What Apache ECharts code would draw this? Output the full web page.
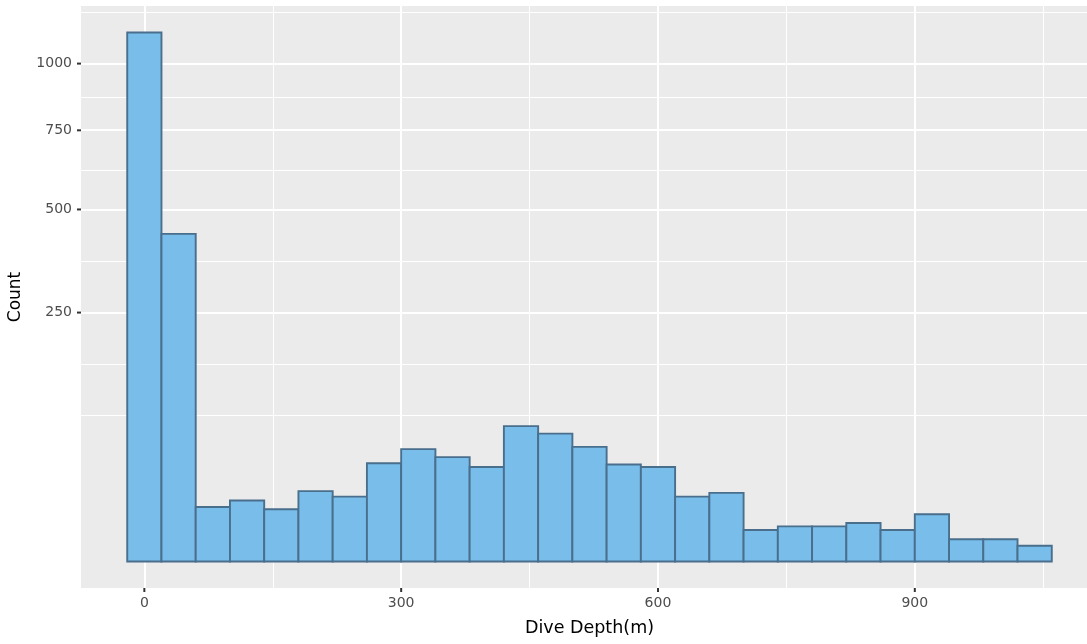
<!DOCTYPE html>
<html><head><meta charset="utf-8">
<script src="https://cdn.jsdelivr.net/npm/echarts@6/dist/echarts.min.js"></script>
<style>html,body{margin:0;padding:0;background:#fff}#c{width:1087px;height:644px}</style>
</head><body><div id="c"></div>
<script>
// Histogram bins (left edges, metres) and counts
const binStart = [-20, 20, 60, 100, 140, 180, 220, 260, 300, 340, 380, 420, 460, 500, 540, 580, 620, 660, 700, 740, 780, 820, 860, 900, 940, 980, 1020];
const binWidth = 40;
const counts = [1129, 433, 12, 15, 11, 20, 17, 39, 51, 44, 36, 74, 66, 53, 38, 36, 17, 19, 4, 5, 5, 6, 4, 9, 2, 2, 1];
const xTicks = [0, 300, 600, 900];
const xMinor = [150, 450, 750, 1050];
const yTicks = [250, 500, 750, 1000];

const sq = v => Math.sqrt(v);
const ySq = yTicks.map(sq);
const bd = ySq[1] - ySq[0];
const ext = [ySq[0] - bd].concat(ySq, [ySq[ySq.length - 1] + bd]);
const yMinorSq = [ext[0]];
for (let i = 0; i < ext.length - 1; i++) yMinorSq.push((ext[i] + ext[i + 1]) / 2);

const data = binStart.map((s, i) => [s, s + binWidth, sq(counts[i])]);

const maxSq = Math.max.apply(null, counts.map(sq));
const yMin = -0.05 * maxSq, yMax = maxSq * 1.05;
const xSpan = binStart[binStart.length - 1] + binWidth - binStart[0];
const xMin = binStart[0] - 0.05 * xSpan;
const xMaxFull = binStart[binStart.length - 1] + binWidth + 0.05 * xSpan;
// the original panel extends past the right edge of the picture (cropped)
const GL = 81, FULLW = 1017, VISW = 1006;
const xMax = xMin + (xMaxFull - xMin) * VISW / FULLW;

const font = '"DejaVu Sans", sans-serif';
const chart = echarts.init(document.getElementById('c'));
const gridLines = []
  .concat(yMinorSq.map(v => ({ yAxis: v, lineStyle: { width: 1 } })))
  .concat(xMinor.map(v => ({ xAxis: v, lineStyle: { width: 1 } })))
  .concat(ySq.map(v => ({ yAxis: v, lineStyle: { width: 2 } })))
  .concat(xTicks.map(v => ({ xAxis: v, lineStyle: { width: 2 } })));

chart.setOption({
  animation: false,
  backgroundColor: '#ffffff',
  grid: { left: GL, top: 6, right: 0, bottom: 56, show: true, backgroundColor: '#EBEBEB', borderWidth: 0, outerBoundsMode: 'none' },
  xAxis: {
    type: 'value', min: xMin, max: xMax,
    name: 'Dive Depth(m)', nameLocation: 'middle', nameGap: 31,
    nameTextStyle: { color: '#000', fontSize: 17.5, fontFamily: font, padding: [0, 0, 0, FULLW - VISW] },
    axisLine: { show: false },
    axisTick: { show: false },
    axisLabel: { customValues: xTicks, color: '#4D4D4D', fontSize: 14, fontFamily: font, margin: 8 },
    splitLine: { show: false }
  },
  yAxis: {
    type: 'value', min: yMin, max: yMax,
    name: 'Count', nameLocation: 'middle', nameGap: 57, nameRotate: 90,
    nameTextStyle: { color: '#000', fontSize: 17, fontFamily: font },
    axisLine: { show: false },
    axisTick: { show: false },
    axisLabel: { customValues: ySq, formatter: v => String(Math.round(v * v)), color: '#4D4D4D', fontSize: 14, fontFamily: font, margin: 9 },
    splitLine: { show: false }
  },
  series: [
    {
      type: 'line', data: [], z: 1, silent: true,
      markLine: {
        silent: true, symbol: 'none', z: 1, animation: false,
        label: { show: false },
        lineStyle: { color: '#ffffff', type: 'solid' },
        emphasis: { disabled: true },
        data: gridLines
      }
    },
    {
      type: 'custom', z: 3, data: data,
      encode: { x: [0, 1], y: 2 },
      renderItem: function (params, api) {
        const p0 = api.coord([api.value(0), api.value(2)]);
        const p1 = api.coord([api.value(1), 0]);
        return {
          type: 'rect',
          shape: { x: p0[0], y: p0[1], width: p1[0] - p0[0], height: p1[1] - p0[1] },
          style: { fill: '#79BDEB', stroke: '#4A6F8C', lineWidth: 1.9 }
        };
      }
    }
  ]
});

// tick marks outside the panel, positioned through the axes' own scales
const yBottom = chart.convertToPixel({ yAxisIndex: 0 }, yMin);
const xLeft = chart.convertToPixel({ xAxisIndex: 0 }, xMin);
const tickEls = [];
xTicks.forEach(v => {
  const px = chart.convertToPixel({ xAxisIndex: 0 }, v);
  tickEls.push({ type: 'line', silent: true, shape: { x1: px, y1: yBottom, x2: px, y2: yBottom + 4 }, style: { stroke: '#333', lineWidth: 2 } });
});
ySq.forEach(v => {
  const py = chart.convertToPixel({ yAxisIndex: 0 }, v);
  tickEls.push({ type: 'line', silent: true, shape: { x1: xLeft - 4, y1: py, x2: xLeft, y2: py }, style: { stroke: '#333', lineWidth: 2 } });
});
chart.setOption({ graphic: tickEls });
</script></body></html>
